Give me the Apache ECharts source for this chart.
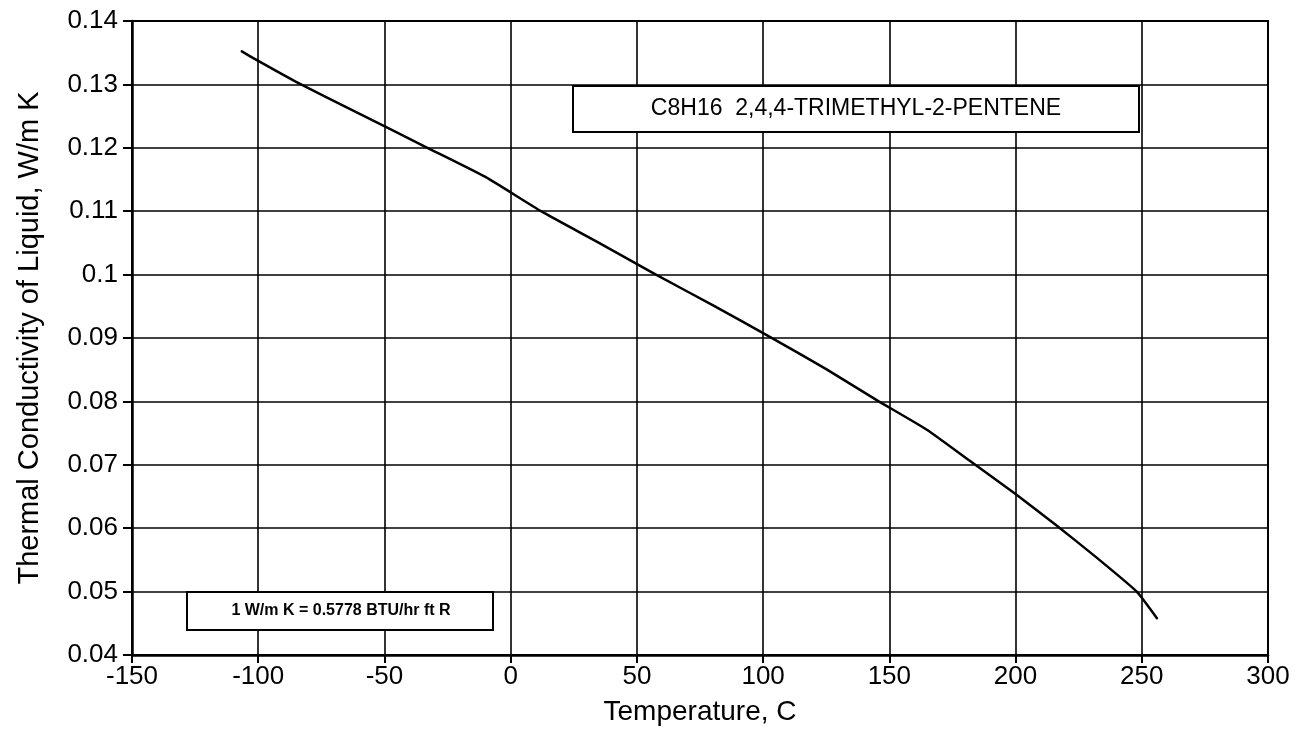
<!DOCTYPE html>
<html>
<head>
<meta charset="utf-8">
<script src="https://cdn.jsdelivr.net/npm/echarts@6/dist/echarts.min.js"></script>
<style>
html,body{margin:0;padding:0;background:#fff;}
#chart{width:1313px;height:736px;}
</style>
</head>
<body>
<div id="chart"></div>
<script>
// Data
const temperatureC = [-106.5, -100, -85, -60, -33, -10, 12, 35, 57, 80, 103, 125, 145, 165, 182, 200, 216, 232, 248, 256];
const conductivity = [0.1352, 0.1337, 0.1304, 0.1254, 0.1200, 0.1154, 0.1100, 0.1050, 0.1001, 0.0952, 0.0901, 0.0851, 0.0802, 0.0755, 0.0706, 0.0654, 0.0605, 0.0554, 0.0500, 0.0458];
const xTicks = [-150, -100, -50, 0, 50, 100, 150, 200, 250, 300];
const yTicks = [0.04, 0.05, 0.06, 0.07, 0.08, 0.09, 0.1, 0.11, 0.12, 0.13, 0.14];
const titleText = 'C8H16  2,4,4-TRIMETHYL-2-PENTENE';
const noteText = '1 W/m K = 0.5778 BTU/hr ft R';
const xName = 'Temperature, C';
const yName = 'Thermal Conductivity of Liquid, W/m K';

const FONT = '"Liberation Sans", Arial, Helvetica, sans-serif';
const chart = echarts.init(document.getElementById('chart'), null, {renderer: 'canvas'});
const seriesData = temperatureC.map((t, i) => [t, conductivity[i]]);

chart.setOption({
  animation: false,
  backgroundColor: '#fff',
  grid: {left: 132, right: 45, top: 21, bottom: 81, show: true, borderColor: '#000', borderWidth: 2, backgroundColor: 'transparent'},
  xAxis: {
    type: 'value',
    min: xTicks[0], max: xTicks[xTicks.length - 1], interval: 50,
    name: xName, nameLocation: 'middle', nameGap: 43,
    nameTextStyle: {fontFamily: FONT, fontSize: 28, color: '#000'},
    axisLine: {show: true, onZero: false, lineStyle: {color: '#000', width: 2.5}},
    axisTick: {show: true, length: 8, lineStyle: {color: '#000', width: 2}},
    axisLabel: {fontFamily: FONT, fontSize: 26, color: '#000', margin: 9},
    splitLine: {show: true, lineStyle: {color: '#000', width: 1.6}}
  },
  yAxis: {
    type: 'value',
    min: yTicks[0], max: yTicks[yTicks.length - 1], interval: 0.01,
    name: yName, nameLocation: 'middle', nameGap: 88, nameRotate: 90,
    nameTextStyle: {fontFamily: FONT, fontSize: 29, color: '#000'},
    axisLine: {show: true, onZero: false, lineStyle: {color: '#000', width: 2.5}},
    axisTick: {show: true, length: 9, lineStyle: {color: '#000', width: 2}},
    axisLabel: {fontFamily: FONT, fontSize: 26, color: '#000', margin: 14,
      formatter: v => String(parseFloat(v.toFixed(2)))},
    splitLine: {show: true, lineStyle: {color: '#000', width: 1.6}}
  },
  series: [{
    type: 'line',
    data: seriesData,
    smooth: 0.15,
    showSymbol: false,
    lineStyle: {color: '#000', width: 2.5, join: 'round', cap: 'round'},
    z: 5
  }],
  graphic: [
    {type: 'rect', shape: {x: 573, y: 86, width: 566, height: 46}, style: {fill: '#fff', stroke: '#000', lineWidth: 2}, z: 10},
    {type: 'text', x: 856, y: 109, style: {text: titleText, font: '23px ' + FONT, fill: '#000', textAlign: 'center', textVerticalAlign: 'middle'}, z: 11},
    {type: 'rect', shape: {x: 187, y: 592, width: 306, height: 38}, style: {fill: '#fff', stroke: '#000', lineWidth: 2}, z: 10},
    {type: 'text', x: 341, y: 611, style: {text: noteText, font: 'bold 16px ' + FONT, fill: '#000', textAlign: 'center', textVerticalAlign: 'middle'}, z: 11}
  ]
});
</script>
</body>
</html>
